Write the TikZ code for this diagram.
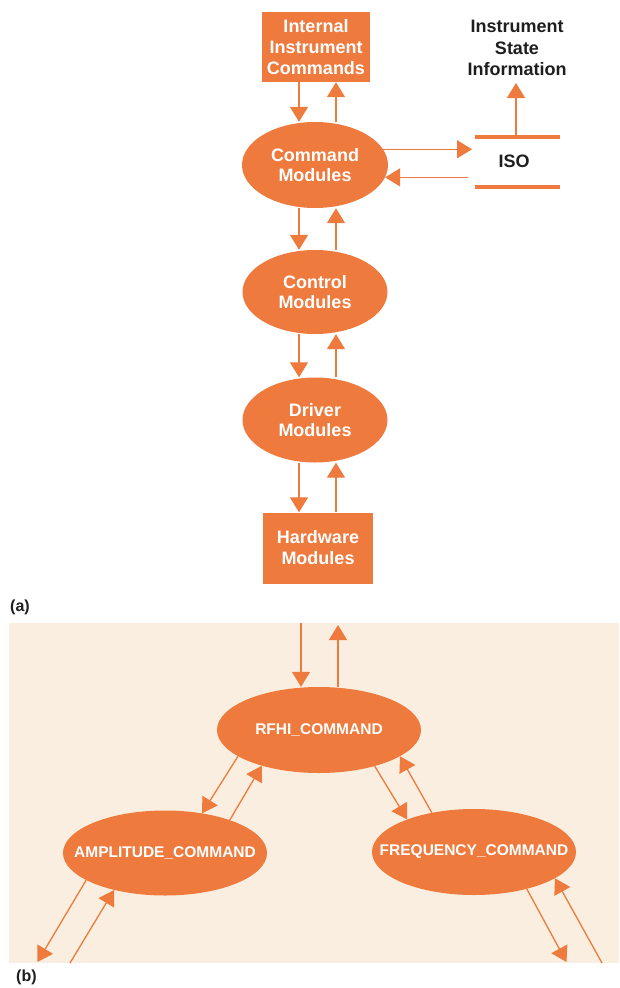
\documentclass[tikz,border=0pt]{standalone}
\usepackage{fontspec}
\setmainfont{Liberation Sans}
\usetikzlibrary{shapes.geometric,arrows.meta}

\definecolor{hporange}{HTML}{EE7A3E}
\definecolor{hpbeige}{HTML}{F9EEDF}
\definecolor{inkgray}{HTML}{1E1E1E}

% labels are set in zero-width boxes so the ellipse size is fixed by the options
\newcommand{\routinelabel}[1]{\makebox[0pt][c]{#1}}

\tikzset{
  module/.style={ellipse, fill=hporange, text=white, inner sep=0pt,
    font=\bfseries\fontsize{18}{20.5}\selectfont, align=center},
  blockbox/.style={rectangle, fill=hporange, text=white, inner sep=0pt,
    font=\bfseries\fontsize{18}{21}\selectfont, align=center},
  routine/.style={ellipse, fill=hporange, text=white, inner sep=0pt,
    font=\bfseries\fontsize{15.5}{18}\selectfont},
  flow/.style={draw=hporange, line width=1.3pt,
    -{Triangle[width=18pt,length=15pt]}},
  isobar/.style={draw=hporange, line width=3.5pt},
  caption/.style={text=inkgray, font=\bfseries\fontsize{16}{18}\selectfont,
    anchor=west, inner sep=0pt},
}

\begin{document}
\begin{tikzpicture}[x=1pt,y=-1pt]
\useasboundingbox (0,0) rectangle (619,988);

% ---------------- (a) module hierarchy ----------------
\node[blockbox, minimum width=108pt, minimum height=70pt] (iic) at (316,47)
  {Internal\\Instrument\\Commands};
\node[module, minimum width=146pt, minimum height=86pt] (cmd) at (315,165)
  {Command\\Modules};
\node[module, minimum width=145pt, minimum height=84pt] (ctl) at (315,292)
  {Control\\Modules};
\node[module, minimum width=145pt, minimum height=85pt] (drv) at (315,420)
  {Driver\\Modules};
\node[blockbox, minimum width=110pt, minimum height=71pt] (hw) at (318,548)
  {Hardware\\Modules};

% instrument state object (ISO) drawn as a data store
\node[text=inkgray, font=\bfseries\fontsize{18}{20}\selectfont, inner sep=0pt]
  (iso) at (514,161) {ISO};
\coordinate (isoTL) at (475,137);
\coordinate (isoTR) at (560,137);
\coordinate (isoBL) at (475,187);
\coordinate (isoBR) at (560,187);
\draw[isobar] (isoTL) -- (isoTR);
\draw[isobar] (isoBL) -- (isoBR);
\coordinate (isoUp) at (516,137);
\coordinate (isoIn) at (472,0);
\coordinate (isoOut) at (468,0);

\node[text=inkgray, font=\bfseries\fontsize{18}{21.5}\selectfont, align=center,
  inner sep=0pt, anchor=south] (isi) at (517,76)
  {Instrument\\State\\Information};

% columns of the down/up connectors
\coordinate (down) at (299,0);
\coordinate (up) at (336,0);

\draw[flow] (iic.south -| down) -- (cmd.north -| down);
\draw[flow] (cmd.north -| up) -- (iic.south -| up);
\draw[flow] (cmd.south -| down) -- (ctl.north -| down);
\draw[flow] (ctl.north -| up) -- (cmd.south -| up);
\draw[flow] (ctl.south -| down) -- (drv.north -| down);
\draw[flow] (drv.north -| up) -- (ctl.south -| up);
\draw[flow] (drv.south -| down) -- (hw.north -| down);
\draw[flow] (hw.north -| up) -- (drv.south -| up);

\draw[flow] (cmd.13) -- (cmd.13 -| isoIn);
\draw[flow] (cmd.-10 -| isoOut) -- (cmd.-10);
\draw[flow, shorten >=7pt] (isoUp) -- (isoUp |- isi.south);

\node[caption] (capa) at (10,607) {(a)};

% ---------------- (b) command routine tree ----------------
\fill[hpbeige] (9,623) rectangle (619,963);

\node[routine, minimum width=204pt, minimum height=86pt] (rfhi) at (319,730)
  {\routinelabel{RFHI\_COMMAND}};
\node[routine, minimum width=204pt, minimum height=85pt] (amp) at (165,853)
  {\routinelabel{AMPLITUDE\_COMMAND}};
\node[routine, minimum width=204pt, minimum height=86pt] (freq) at (474,852)
  {\routinelabel{FREQUENCY\_COMMAND}};

\coordinate (inTop) at (301,623);
\coordinate (outTop) at (338,625);
\draw[flow] (inTop) -- (inTop |- rfhi.north);
\draw[flow] (rfhi.north -| outTop) -- (outTop);

\draw[flow] (rfhi.-162) -- (amp.47);
\draw[flow] (amp.27.6) -- (rfhi.212.5);
\draw[flow] (rfhi.-33.5) -- (freq.154.5);
\draw[flow] (freq.137.1) -- (rfhi.-18.9);

\coordinate (ampOut) at (37.5,962);
\coordinate (ampIn) at (70,963);
\coordinate (freqOut) at (566.5,962);
\coordinate (freqIn) at (602,963);
\draw[flow] (amp.199.7) -- (ampOut);
\draw[flow] (ampIn) -- (amp.216.3);
\draw[flow] (freq.-35.6) -- (freqOut);
\draw[flow] (freqIn) -- (freq.-18.4);

\node[caption] (capb) at (16,977) {(b)};
\end{tikzpicture}
\end{document}
